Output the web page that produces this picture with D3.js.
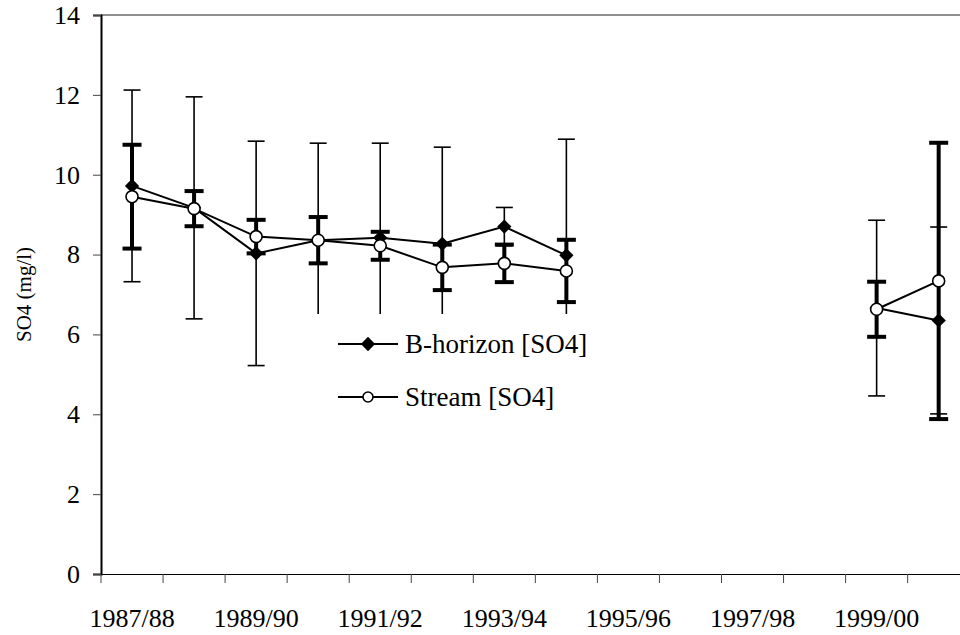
<!DOCTYPE html>
<html><head><meta charset="utf-8">
<script src="https://cdn.jsdelivr.net/npm/d3@7/dist/d3.min.js"></script>
<style>body{margin:0;background:#fff}</style>
</head><body>
<script>
const categories = ["1987/88","1988/89","1989/90","1990/91","1991/92","1992/93","1993/94","1994/95","1995/96","1996/97","1997/98","1998/99","1999/00","2000/01"];
const tickLabels = ["1987/88","1989/90","1991/92","1993/94","1995/96","1997/98","1999/00"];
const yTicks = [0,2,4,6,8,10,12,14];
const bMean = [9.72, 9.17, 8.03, 8.36, 8.42, 8.27, 8.70, 7.98, null, null, null, null, 6.66, 6.35];
const bErr  = [2.40, 2.78, 2.81, 2.43, 2.37, 2.42, 0.48, 2.91, null, null, null, null, 2.20, 2.34];
const sMean = [9.45, 9.15, 8.45, 8.36, 8.22, 7.68, 7.78, 7.59, null, null, null, null, 6.63, 7.34];
const sErr  = [1.30, 0.44, 0.42, 0.58, 0.35, 0.57, 0.47, 0.78, null, null, null, null, 0.69, 3.46];
const seriesNames = ["B-horizon [SO4]", "Stream [SO4]"];

const FONT = '"Times New Roman", Times, Tinos, "Liberation Serif", serif';
const W = 960, H = 635;
const svg = d3.select("body").append("svg").attr("width", W).attr("height", H).attr("font-family", FONT);
const mLeft = 101, mTop = 15, mBottom = 574;
const x = d3.scaleBand().domain(categories).range([mLeft, mLeft + 14 * 62.05]).paddingInner(0).paddingOuter(0);
const y = d3.scaleLinear().domain([0, 14]).range([mBottom, mTop]);
const cx = c => x(c) + x.bandwidth() / 2;

svg.append("line").attr("x1", mLeft).attr("x2", W + 20).attr("y1", mTop).attr("y2", mTop)
  .attr("stroke", "#222").attr("stroke-width", 1.2);

const yAxis = svg.append("g").attr("transform", `translate(${mLeft},0)`)
  .call(d3.axisLeft(y).tickValues(yTicks).tickSize(8).tickPadding(13).tickFormat(d3.format("d")));
yAxis.attr("font-family", FONT).attr("font-size", 26);
yAxis.select(".domain").attr("stroke", "#000").attr("stroke-width", 2);
yAxis.selectAll(".tick line").attr("stroke", "#444").attr("stroke-width", 1);
yAxis.selectAll("text").attr("fill", "#000").attr("font-family", FONT).attr("font-size", 26);

const xAxis = svg.append("g").attr("transform", `translate(0,${mBottom})`)
  .call(d3.axisBottom(x).tickSize(0).tickFormat(d => tickLabels.includes(d) ? d : ""));
xAxis.attr("font-family", FONT).attr("font-size", 26);
xAxis.select(".domain").attr("stroke", "#000").attr("stroke-width", 1.2);
xAxis.selectAll(".tick text").attr("fill", "#000").attr("dy", 0).attr("y", 53).attr("font-family", FONT).attr("font-size", 26);
const bounds = categories.map(c => x(c));
svg.append("g").selectAll("line").data(bounds).join("line")
  .attr("x1", d => d).attr("x2", d => d).attr("y1", mBottom).attr("y2", mBottom + 9)
  .attr("stroke", "#444").attr("stroke-width", 1);

svg.append("text").attr("transform", `translate(31,${(mTop + mBottom) / 2}) rotate(-90)`)
  .attr("text-anchor", "middle").attr("font-size", 21).attr("font-family", FONT).attr("fill", "#000").text("SO4 (mg/l)");

const plot = svg.append("g");
function errorBars(means, errs, sw, capW, capSw) {
  const data = categories.map((c, i) => ({c, m: means[i], e: errs[i]})).filter(d => d.m != null);
  const g = plot.append("g").attr("stroke", "#000");
  g.selectAll(".v").data(data).join("line")
    .attr("x1", d => cx(d.c)).attr("x2", d => cx(d.c))
    .attr("y1", d => y(d.m + d.e)).attr("y2", d => y(d.m - d.e)).attr("stroke-width", sw);
  [1, -1].forEach(s => {
    g.append("g").selectAll("line").data(data).join("line")
      .attr("x1", d => cx(d.c) - capW / 2).attr("x2", d => cx(d.c) + capW / 2)
      .attr("y1", d => y(d.m + s * d.e)).attr("y2", d => y(d.m + s * d.e)).attr("stroke-width", capSw);
  });
}
errorBars(bMean, bErr, 1.6, 17, 1.6);
errorBars(sMean, sErr, 4, 19, 4);

const line = d3.line().defined(d => d.m != null).x(d => cx(d.c)).y(d => y(d.m));
const bData = categories.map((c, i) => ({c, m: bMean[i]}));
const sData = categories.map((c, i) => ({c, m: sMean[i]}));
plot.append("path").datum(bData).attr("d", line).attr("fill", "none").attr("stroke", "#000").attr("stroke-width", 2);
plot.append("path").datum(sData).attr("d", line).attr("fill", "none").attr("stroke", "#000").attr("stroke-width", 2);

const diamond = d3.symbol().type(d3.symbolDiamond2).size(130);
plot.append("g").selectAll("path").data(bData.filter(d => d.m != null)).join("path")
  .attr("d", diamond).attr("transform", d => `translate(${cx(d.c)},${y(d.m)})`)
  .attr("fill", "#000");
plot.append("g").selectAll("circle").data(sData.filter(d => d.m != null)).join("circle")
  .attr("cx", d => cx(d.c)).attr("cy", d => y(d.m)).attr("r", 6)
  .attr("fill", "#fff").attr("stroke", "#000").attr("stroke-width", 1.6);

const lg = svg.append("g");
lg.append("rect").attr("x", 300).attr("y", 314).attr("width", 315).attr("height", 110).attr("fill", "#fff");
const items = [{n: seriesNames[0], yy: 344, t: "d"}, {n: seriesNames[1], yy: 397, t: "c"}];
items.forEach(it => {
  lg.append("line").attr("x1", 338).attr("x2", 398).attr("y1", it.yy).attr("y2", it.yy).attr("stroke", "#000").attr("stroke-width", 2);
  if (it.t === "d") lg.append("path").attr("d", diamond).attr("transform", `translate(368,${it.yy})`).attr("fill", "#000");
  else lg.append("circle").attr("cx", 368).attr("cy", it.yy).attr("r", 5).attr("fill", "#fff").attr("stroke", "#000").attr("stroke-width", 1.6);
  lg.append("text").attr("x", 405).attr("y", it.yy + 9).attr("font-size", 27).attr("font-family", FONT).attr("fill", "#000").text(it.n);
});
</script>
</body></html>
